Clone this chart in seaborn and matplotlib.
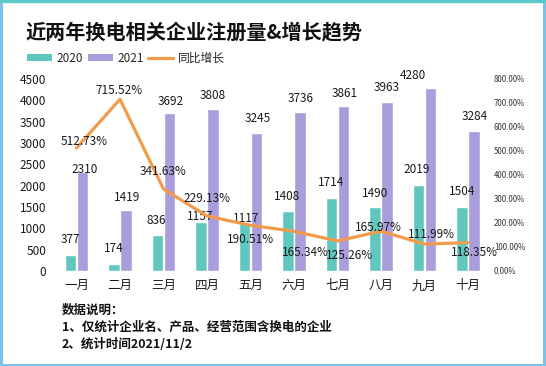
import numpy as np
import pandas as pd
import matplotlib
matplotlib.use("Agg")
import matplotlib.pyplot as plt
from matplotlib.patches import Rectangle, Patch
from matplotlib.lines import Line2D
from matplotlib.ticker import FuncFormatter, MultipleLocator
import seaborn as sns

# ---------------- data ----------------
months = ["一月", "二月", "三月", "四月", "五月", "六月", "七月", "八月", "九月", "十月"]
reg_2020 = [377, 174, 836, 1157, 1117, 1408, 1714, 1490, 2019, 1504]
reg_2021 = [2310, 1419, 3692, 3808, 3245, 3736, 3861, 3963, 4280, 3284]
growth_pct = [512.73, 715.52, 341.63, 229.13, 190.51, 165.34, 125.26, 165.97, 111.99, 118.35]
series_names = ["2020", "2021"]
line_name = "同比增长"
title = "近两年换电相关企业注册量&增长趋势"
notes = ["数据说明：", "1、仅统计企业名、产品、经营范围含换电的企业", "2、统计时间2021/11/2"]

# ---------------- style ----------------
sns.set_style("white")
plt.rcParams["font.family"] = ["Noto Sans CJK SC", "DejaVu Sans"]
plt.rcParams["axes.unicode_minus"] = False

teal = "#60c7bf"
purple = "#a99ddb"
orange = "#f29b4c"
txt = "#1a1a1a"

# label offsets (pixels) for data labels
off_2020 = [(0, 15), (0, 15), (-1, 15), (-1, 5), (2, 5), (-1, 14), (0, 15), (0, 14), (-2, 15), (0, 15)]
off_2021 = [(2, 3), (1, 13), (1, 12), (0, 13), (1, 14), (1, 13), (1, 13), (0, 14), (-18, 13), (1, 14)]
off_pct = [(8, 6), (-1, 9), (0, 18), (0, 18), (0, -14), (11, -21), (12, -15), (-3, 4), (7, 10), (6, -10)]

df = pd.DataFrame({
    "month": months * 2,
    "year": [series_names[0]] * len(months) + [series_names[1]] * len(months),
    "value": reg_2020 + reg_2021,
})

W, H = 546, 366
fig = plt.figure(figsize=(W / 100, H / 100), dpi=100)
fig.patch.set_facecolor("white")

ax = fig.add_axes([54.75 / W, (H - 271) / H, 435 / W, 192 / H])
sns.barplot(data=df, x="month", y="value", hue="year", order=months,
            hue_order=series_names, palette=[teal, purple], width=0.56, gap=0.08,
            saturation=1, ax=ax, legend=False)
ax.set_xlim(-0.5, len(months) - 0.5)
ax.set_ylim(0, 4500)
ax.yaxis.set_major_locator(MultipleLocator(500))
ax.set_xlabel("")
ax.set_ylabel("")
for s in ax.spines.values():
    s.set_visible(False)
ax.tick_params(axis="y", length=0, pad=6, labelsize=8.5, labelcolor=txt)
ax.tick_params(axis="x", length=0, pad=6, labelsize=9, labelcolor=txt)
ax.grid(False)

# bar labels
for cont, vals, offs in zip(ax.containers, [reg_2020, reg_2021], [off_2020, off_2021]):
    for bar, v, (dx, dy) in zip(cont, vals, offs):
        ax.annotate(f"{v}", (bar.get_x() + bar.get_width() / 2, bar.get_height()),
                    xytext=(dx, dy), textcoords="offset pixels",
                    ha="center", va="center", fontsize=8.5, color=txt, zorder=5)

# growth line
ax2 = ax.twinx()
sns.lineplot(x=months, y=growth_pct, ax=ax2, color=orange, linewidth=2.3, sort=False)
ax2.set_ylim(0, 800)
ax2.set_xlim(-0.5, len(months) - 0.5)
ax2.yaxis.set_major_locator(MultipleLocator(100))
ax2.yaxis.set_major_formatter(FuncFormatter(lambda v, p: f"{v:.2f}%"))
ax2.tick_params(axis="y", length=0, pad=3, labelsize=5.7, labelcolor="#333333")
ax2.set_ylabel("")
for s in ax2.spines.values():
    s.set_visible(False)
ax2.grid(False)

for i, (g, (dx, dy)) in enumerate(zip(growth_pct, off_pct)):
    ax2.annotate(f"{g:.2f}%", (i, g), xytext=(dx, dy), textcoords="offset pixels",
                 ha="center", va="center", fontsize=8.5, color=txt, zorder=6)

# title
fig.text(25 / W, 1 - 32 / H, title, fontsize=14.5, fontweight="bold", color="#111111",
         ha="left", va="center")

# legend
handles = [Patch(facecolor=teal, edgecolor="none"),
           Patch(facecolor=purple, edgecolor="none"),
           Line2D([0], [0], color=orange, lw=2.3)]
fig.legend(handles, series_names + [line_name], loc="center left",
           bbox_to_anchor=(27 / W, 1 - 58 / H), ncol=3, frameon=False,
           fontsize=8.5, handlelength=2.1, handleheight=0.5, handletextpad=0.4,
           columnspacing=0.4, borderaxespad=0, borderpad=0)

# notes
for k, line in enumerate(notes):
    fig.text(62 / W, 1 - (310 + 17.5 * k) / H, line, fontsize=9, fontweight="bold",
             color="#111111", ha="left", va="center")

# border
fig.patches.append(Rectangle((0.002, 0.003), 0.995, 0.994, transform=fig.transFigure,
                             fill=False, edgecolor="#7cc3e6", linewidth=2.2))
fig.lines.append(Line2D([0, 1], [0.997, 0.997], transform=fig.transFigure,
                        color="#5cc9c9", linewidth=2.4))

fig.savefig("out.png", dpi=100, facecolor="white")
